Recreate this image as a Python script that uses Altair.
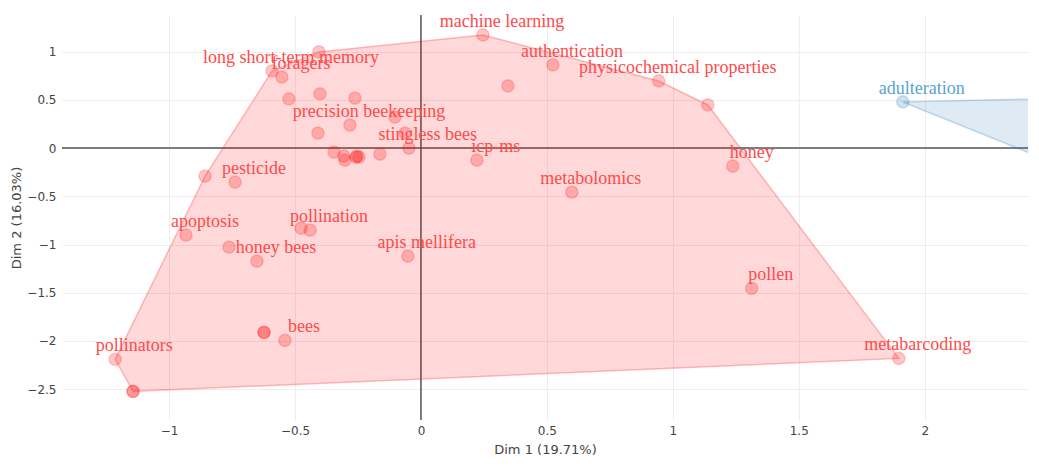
import altair as alt
import pandas as pd

# ---- data ----
red_x = [0.246, -0.405, -0.591, -0.552, -0.524, -0.401, -0.262, -0.103, -0.282, -0.409,
         -0.063, -0.048, -0.345, -0.306, -0.302, -0.254, -0.246, -0.258, -0.163, 0.222,
         0.345, 0.524, 0.944, 1.139, 1.238, 0.599, 1.313, 1.897, -0.738, -0.857,
         -0.933, -0.476, -0.440, -0.762, -0.651, -0.052, -0.623, -0.623, -0.540, -1.214,
         -1.143, -1.143]
red_y = [1.173, 0.997, 0.800, 0.737, 0.509, 0.561, 0.519, 0.322, 0.239, 0.156,
         0.156, 0.000, -0.042, -0.083, -0.125, -0.083, -0.093, -0.095, -0.062, -0.125,
         0.644, 0.862, 0.696, 0.447, -0.187, -0.457, -1.454, -2.181, -0.353, -0.291,
         -0.903, -0.831, -0.851, -1.028, -1.173, -1.121, -1.911, -1.911, -1.994, -2.191,
         -2.523, -2.523]
red_lab = ["machine learning", "", "long short-term memory", "foragers", "", "", "", "",
           "precision beekeeping", "", "", "stingless bees", "", "", "", "", "", "", "",
           "icp-ms", "", "authentication", "physicochemical properties", "", "honey",
           "metabolomics", "pollen", "metabarcoding", "pesticide", "", "apoptosis", "",
           "pollination", "", "honey bees", "apis mellifera", "", "", "bees", "pollinators",
           "", ""]

blue_x = [1.913, 2.90, 2.90]
blue_y = [0.478, 0.540, -0.560]
blue_lab = ["adulteration", "", ""]

x_ticks = [-1, -0.5, 0, 0.5, 1, 1.5, 2]
y_ticks = [-2.5, -2, -1.5, -1, -0.5, 0, 0.5, 1]

RED = "#ff0000"
BLUE = "#1f77b4"


def hull(xs, ys):
    pts = sorted(set(zip(xs, ys)))
    if len(pts) < 3:
        return pts

    def cross(o, a, b):
        return (a[0] - o[0]) * (b[1] - o[1]) - (a[1] - o[1]) * (b[0] - o[0])

    lower, upper = [], []
    for p in pts:
        while len(lower) >= 2 and cross(lower[-2], lower[-1], p) <= 0:
            lower.pop()
        lower.append(p)
    for p in reversed(pts):
        while len(upper) >= 2 and cross(upper[-2], upper[-1], p) <= 0:
            upper.pop()
        upper.append(p)
    return lower[:-1] + upper[:-1]


def hull_df(xs, ys, grp):
    h = hull(xs, ys)
    h = h + [h[0]]
    return pd.DataFrame({"x": [p[0] for p in h], "y": [p[1] for p in h],
                         "i": list(range(len(h))), "g": grp})


pts = pd.concat([
    pd.DataFrame({"x": red_x, "y": red_y, "label": red_lab, "g": "red"}),
    pd.DataFrame({"x": blue_x, "y": blue_y, "label": blue_lab, "g": "blue"}),
], ignore_index=True)

XD = [-1.425, 2.41]
YD = [-2.82, 1.38]

xs = alt.Scale(domain=XD, nice=False, zero=False)
ys = alt.Scale(domain=YD, nice=False, zero=False)

xax = alt.Axis(values=x_ticks, format="~g", title="Dim 1 (19.71%)",
               grid=True, domain=False, ticks=False, labelPadding=5, titlePadding=7)
yax = alt.Axis(values=y_ticks, format="~g", title="Dim 2 (16.03%)",
               grid=True, domain=False, ticks=False, labelPadding=6, titlePadding=3)

base_axes = alt.Chart(pd.DataFrame({"x": [0.0], "y": [0.0]})).mark_point(opacity=0).encode(
    x=alt.X("x:Q", scale=xs, axis=xax),
    y=alt.Y("y:Q", scale=ys, axis=yax),
)

zero_v = alt.Chart(pd.DataFrame({"x": [0.0]})).mark_rule(color="#555555", strokeWidth=1.5).encode(
    x=alt.X("x:Q", scale=xs))
zero_h = alt.Chart(pd.DataFrame({"y": [0.0]})).mark_rule(color="#555555", strokeWidth=1.5).encode(
    y=alt.Y("y:Q", scale=ys))


def hull_layer(df, col):
    return alt.Chart(df).mark_line(fill=col, fillOpacity=0.15, stroke=col, strokeOpacity=0.25,
                                   strokeWidth=1.5, clip=True).encode(
        x=alt.X("x:Q", scale=xs), y=alt.Y("y:Q", scale=ys), order="i:Q")


red_hull = hull_layer(hull_df(red_x, red_y, "red"), RED)
blue_hull = hull_layer(hull_df(blue_x, blue_y, "blue"), BLUE)

color_scale = alt.Scale(domain=["red", "blue"], range=[RED, BLUE])
label_scale = alt.Scale(domain=["red", "blue"], range=["#ff4a4a", "#5aa3d3"])

points = alt.Chart(pts).mark_circle(size=150, fillOpacity=0.22, strokeOpacity=0.18,
                                    strokeWidth=1.5, clip=True).encode(
    x=alt.X("x:Q", scale=xs), y=alt.Y("y:Q", scale=ys),
    fill=alt.Fill("g:N", scale=color_scale, legend=None),
    stroke=alt.Stroke("g:N", scale=color_scale, legend=None),
)

labels = alt.Chart(pts).transform_filter(alt.datum.label != "").mark_text(
    align="center", baseline="alphabetic", dx=19, dy=-8,
    font="Liberation Serif", fontSize=18).encode(
    x=alt.X("x:Q", scale=xs), y=alt.Y("y:Q", scale=ys),
    text="label:N",
    color=alt.Color("g:N", scale=label_scale, legend=None),
)

chart = alt.layer(base_axes, zero_v, zero_h, red_hull, blue_hull, points, labels).properties(
    width=966, height=405,
    padding={"left": 62, "top": 15, "right": 11, "bottom": 46},
    autosize=alt.AutoSizeParams(type="none"),
).resolve_scale(color="independent").configure_view(stroke=None).configure_axis(
    labelFont="DejaVu Sans", labelFontSize=12, labelColor="#444444",
    titleFont="DejaVu Sans", titleFontSize=13, titleColor="#444444", titleFontWeight="normal",
    gridColor="#eeeeee", gridWidth=1,
)

chart.save("out.html", embed_options={"renderer": "svg", "actions": False})
